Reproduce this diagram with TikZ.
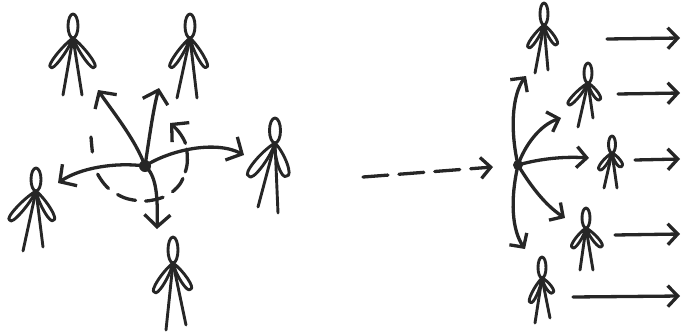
\documentclass[tikz,border=0pt]{standalone}
\usetikzlibrary{arrows.meta}

% one arm of a stick figure: a thin loop from the neck to the hand
% \drawarm(dx,dy){half width}
\def\drawarm(#1,#2)#3{%
  \pgfmathsetmacro\armang{atan2(#2,#1)}%
  \pgfmathsetmacro\armlen{veclen(#1,#2)}%
  \draw[figline,rotate=-\armang] (0,0)
    .. controls (0.35*\armlen,1.4*#3) and (1.05*\armlen,1.5*#3) .. (0.97*\armlen,0)
    .. controls (1.05*\armlen,-1.5*#3) and (0.35*\armlen,-1.4*#3) .. cycle;}

% stick figure: neck (x,y), head half height, head half width, arm half width,
% left arm, right arm, left leg, right leg (all relative to the neck)
\def\drawperson(#1,#2)#3#4#5(#6)(#7)(#8)(#9){%
  \begin{scope}[shift={(#1,#2)}]
    \draw[figline] (0,-#3) ellipse [x radius=#4, y radius=#3];
    \drawarm(#6){#5}
    \drawarm(#7){#5}
    \draw[figline] (0,0) -- (#8);
    \draw[figline] (0,0) -- (#9);
  \end{scope}}

\begin{document}
\begin{tikzpicture}[x=1pt,y=-1pt,
  figline/.style={line width=2.9pt, line cap=round, line join=round, draw=black!85},
  ink/.style={line width=3.3pt, line cap=round, line join=round, draw=black!85},
  bigtip/.style={ink, -{Straight Barb[length=12pt,width=26pt]}},
  smalltip/.style={ink, -{Straight Barb[length=10pt,width=21pt]}},
  hubdot/.style={circle, fill=black!85, inner sep=0pt, minimum size=12pt},
]
\useasboundingbox (0,0) rectangle (682,335);

% ---------- left: one person turning towards everyone around ----------
\drawperson(73,38){12}{5}{2.8}(-23,30)(22,30)(-10,57)(9,57)
\drawperson(190,38){12}{5}{2.8}(-20,30)(17,30)(-13,60)(7,60)
\drawperson(275,143){12.5}{5.5}{4.2}(-27,34)(12,34)(-17,64)(3,70)
\drawperson(36,191){11.5}{5}{3.2}(-27,30)(18,30)(-13,60)(7,56)
\drawperson(173,263){13}{5}{3.2}(-19,30)(18,27)(-7,67)(13,62)

\node[hubdot] (hubL) at (145,166) {};
\coordinate (tipNW) at (98,90);
\coordinate (tipN)  at (159,88);
\coordinate (tipE)  at (244,155);
\coordinate (tipW)  at (58,183);
\coordinate (tipS)  at (157,229);

\draw[bigtip] (hubL.center) .. controls (136,140) and (110,108) .. (tipNW);
\draw[bigtip] (hubL.center) .. controls (149,140) and (153,110) .. (tipN);
\draw[bigtip] (hubL.center) .. controls (170,150) and (215,140) .. (tipE);
\draw[bigtip] (hubL.center) .. controls (115,162) and (80,168) .. (tipW);
\draw[bigtip] (hubL.center) .. controls (156,175) and (158,195) .. (tipS);

% turning round: dashed loop around the hub
\draw[bigtip, dash pattern=on 15pt off 23pt on 18pt off 11pt on 19pt off 10pt
      on 18pt off 11pt on 17pt off 7pt on 23pt off 6pt on 60pt off 0pt]
  plot[smooth] coordinates
  {(91,137) (95,168) (107,187) (125,198) (146,201) (166,196) (180,184)
   (187,165) (186,145) (179,132) (170,123)};

% ---------- right: one source fanning out to a moving crowd ----------
\coordinate (feedStart) at (363,177);
\coordinate (feedEnd)   at (493,167);
\node[hubdot, minimum size=10pt] (hubR) at (518,165) {};
\draw[smalltip, dash pattern=on 25pt off 11pt] (feedStart) -- (feedEnd);

\drawperson(544,25){11}{4}{2.5}(-16,23)(13,20)(-9,48)(4,45)
\drawperson(588,83){10}{4}{2.5}(-20,22)(12,17)(-10,44)(5,35)
\drawperson(612,153){8.5}{3.5}{2.4}(-13,17)(10,14)(-8,35)(5,35)
\drawperson(586,228){10}{4}{2.5}(-14,20)(16,19)(-6,42)(7,42)
\drawperson(542,278){10.5}{4}{2.5}(-12,25)(11,15)(-7,45)(8,40)

\coordinate (fan1) at (526,76);
\coordinate (fan2) at (561,118);
\coordinate (fan3) at (589,158);
\coordinate (fan4) at (565,218);
\coordinate (fan5) at (525,249);
\draw[smalltip] (hubR.center) .. controls (510,130) and (512,95) .. (fan1);
\draw[smalltip] (hubR.center) .. controls (525,145) and (540,125) .. (fan2);
\draw[smalltip] (hubR.center) .. controls (535,160) and (560,156) .. (fan3);
\draw[smalltip] (hubR.center) .. controls (530,185) and (545,205) .. (fan4);
\draw[smalltip] (hubR.center) .. controls (510,200) and (512,230) .. (fan5);

% onward movement of each person
\coordinate (go1s) at (607,39);  \coordinate (go1e) at (680,38);
\coordinate (go2s) at (618,94);  \coordinate (go2e) at (680,93);
\coordinate (go3s) at (635,160); \coordinate (go3e) at (680,159);
\coordinate (go4s) at (615,235); \coordinate (go4e) at (680,234);
\coordinate (go5s) at (573,297); \coordinate (go5e) at (680,296);
\foreach \k in {1,...,5}
  \draw[smalltip] (go\k s) -- (go\k e);
\end{tikzpicture}
\end{document}
